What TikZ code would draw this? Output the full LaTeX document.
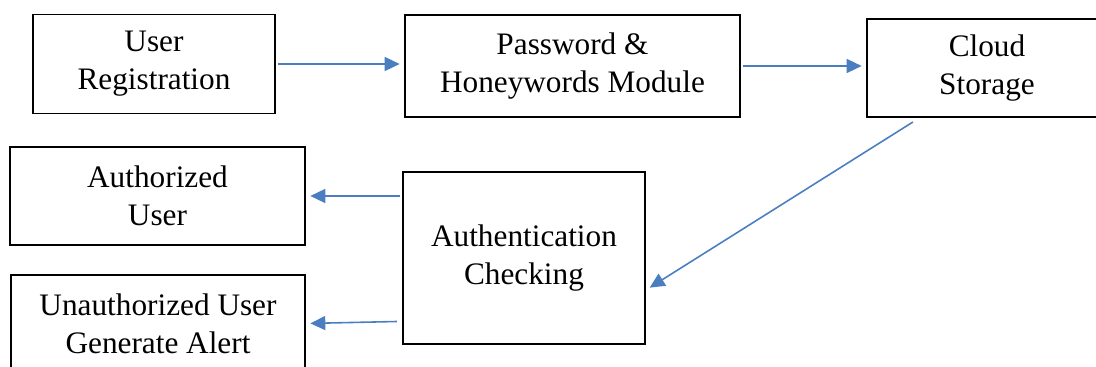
\documentclass[tikz,border=0pt]{standalone}
\usepackage{fontspec}
\setmainfont{Liberation Serif}
\usetikzlibrary{arrows.meta}
\definecolor{linkblue}{RGB}{74,126,193}
\tikzset{
    block/.style={draw=black, line width=1.1pt, fill=white, align=center, inner sep=0pt,
        font=\fontsize{17.8}{21.6}\selectfont},
    link/.style={draw=linkblue, line width=0.9pt, -{Triangle[length=0.3cm,width=0.28cm]}, shorten >=2.5pt}
}
\begin{document}
\begin{tikzpicture}[x=0.02cm, y=-0.02cm]
    \clip (0,0) rectangle (1096,367);
        \node[block, minimum width=4.84cm, minimum height=1.98cm] (reg) at (154,64) {User\\Registration};
		\node[block, minimum width=6.7cm, minimum height=2.04cm] (pwd) at (572.5,66) {Password \&\\Honeywords Module};
		\node[block, minimum width=4.8cm, minimum height=1.96cm] (cloud) at (987,68) {Cloud\\Storage};
		\node[block, minimum width=4.84cm, minimum height=3.44cm] (auth) at (524,258) {Authentication\\Checking};
		\node[block, minimum width=5.9cm, minimum height=1.96cm] (authd) at (157.5,196) {Authorized\\User};
		\node[block, minimum width=5.88cm, minimum height=1.94cm] (unauth) at (158,323.5) {Unauthorized User\\Generate Alert};
		\coordinate (cloudout) at ([xshift=-1.48cm, yshift=-0.08cm]cloud.south);
		\draw[link] ([xshift=1pt]reg.east) -- (reg.east -| pwd.west);
		\draw[link] ([xshift=1pt]pwd.east) -- (pwd.east -| cloud.west);
		\draw[link] (cloudout) -- ([yshift=-0.64cm]auth.east);
		\draw[link] ([xshift=-1pt]auth.west |- authd.east) -- (authd.east);
		\draw[link] ([xshift=-3pt,yshift=0.04cm]auth.west |- unauth.east) -- (unauth.east);
    \end{tikzpicture}
\end{document}
